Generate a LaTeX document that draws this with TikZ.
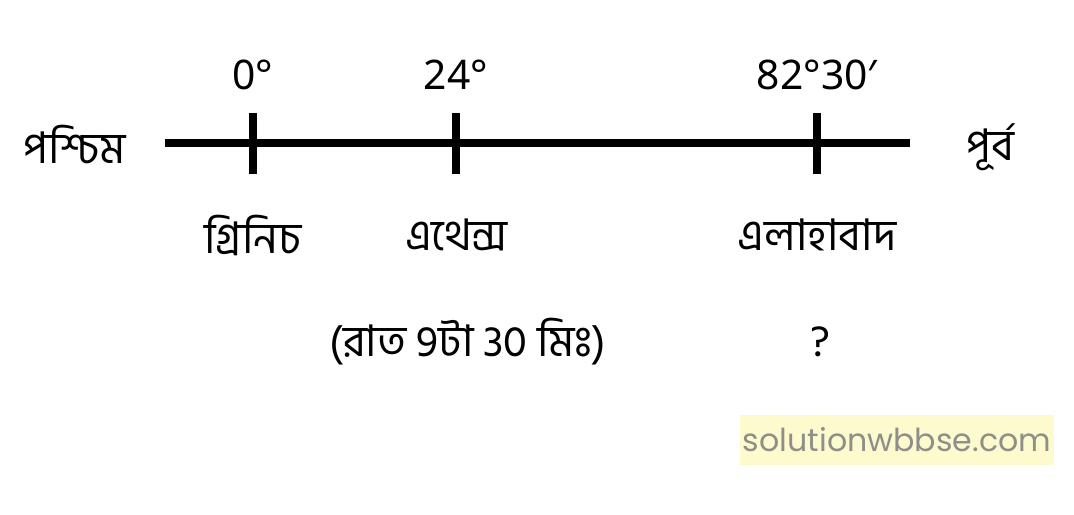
\documentclass[tikz,border=0pt]{standalone}
\usepackage{fontspec}
\newfontfamily\bnfont[Script=Bengali]{Hind Siliguri}
\newfontfamily\degfont{Noto Sans}
\newfontfamily\wmfont{Poppins}
\usetikzlibrary{positioning}
\definecolor{wmfill}{HTML}{FDFACD}
\definecolor{wmtext}{HTML}{8E8E8A}
\tikzset{
  axis/.style={line width=5pt},
  tick/.style={line width=5.5pt},
  deglabel/.style={font=\degfont\fontsize{29}{34}\selectfont},
  bnlabel/.style={font=\bnfont\fontsize{31}{37}\selectfont},
  wmark/.style={fill=wmfill,text=wmtext,font=\wmfont\fontsize{22.5}{27}\selectfont,inner xsep=2pt,inner ysep=0pt,minimum height=35pt}
}

\begin{document}
\begin{tikzpicture}[x=0.025cm,y=-0.025cm]
\useasboundingbox (0,0) rectangle (1074,514);

\coordinate (west) at (165,143);
\coordinate (east) at (910,143);
\draw[axis] (west) -- (east);

\node[bnlabel] (wlabel) at (75,144) {পশ্চিম};
\node[bnlabel] (elabel) at (990,147) {পূর্ব};

\foreach \x/\deg/\place [count=\i from 0] in {253/0°/গ্রিনিচ, 456/24°/এথেন্স, 817/82°30′/এলাহাবাদ} {
\coordinate (c\i) at (\x,143);
\draw[tick] (c\i) ++(0,-30) -- ++(0,61);
\node[deglabel] (d\i) at (\x,75) {\deg};
\node[bnlabel] (p\i) at (\x,235) {\place};
}

\node[bnlabel] (t1) at (468,342) {(রাত 9টা 30 মিঃ)};
\node[bnlabel] (t2) at (820,342) {?};

\node[wmark] (wm) at (897,440) {solutionwbbse.com};
\end{tikzpicture}
\end{document}
